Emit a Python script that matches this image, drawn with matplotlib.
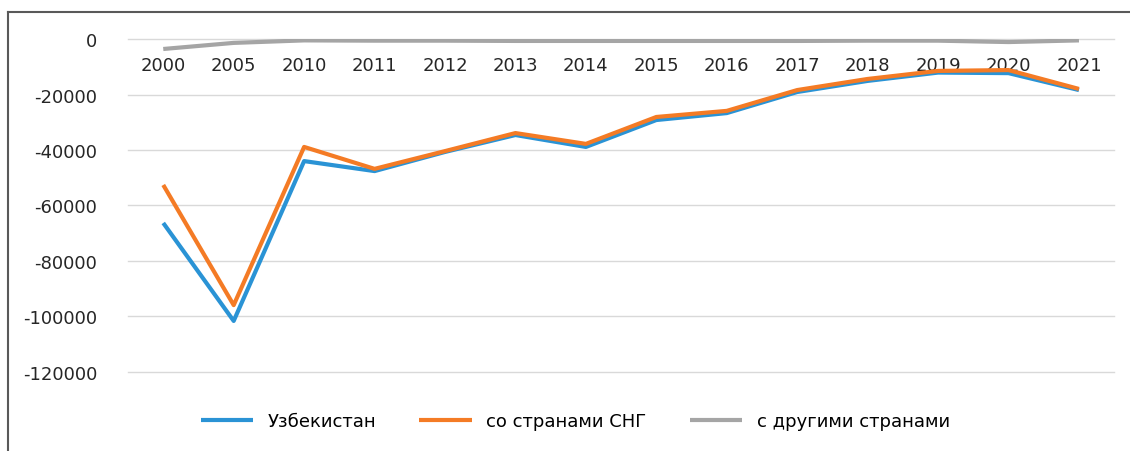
import matplotlib
matplotlib.use('Agg')
import matplotlib.pyplot as plt
from matplotlib.lines import Line2D

years = ['2000', '2005', '2010', '2011', '2012', '2013', '2014',
         '2015', '2016', '2017', '2018', '2019', '2020', '2021']
uzbekistan = [-66300, -101600, -44000, -47600, -40700, -34600, -38900,
              -29200, -26700, -19100, -15100, -12100, -12300, -18400]
cis = [-52600, -95900, -38900, -46800, -40400, -33900, -37800,
       -28100, -25900, -18400, -14400, -11500, -11200, -18000]
others = [-3600, -1400, -500, -600, -600, -700, -700,
          -700, -700, -700, -600, -600, -1100, -500]
labels = ['Узбекистан', 'со странами СНГ', 'с другими странами']

plt.rcParams['font.family'] = ['DejaVu Sans']

fig = plt.figure(figsize=(11.3, 4.52), dpi=100)
ax = fig.add_axes([0.1133, 0.1748, 0.8727, 0.7367])

x = list(range(len(years)))
ax.plot(x, uzbekistan, color='#2a93d5', lw=3, label=labels[0], solid_capstyle='butt')
ax.plot(x, cis, color='#f47b25', lw=3, label=labels[1], solid_capstyle='butt')
ax.plot(x, others, color='#a5a5a5', lw=3, label=labels[2], solid_capstyle='butt')

ax.set_xlim(-0.5, len(years) - 0.5)
ax.set_ylim(-120000, 0)
ax.set_yticks(range(-120000, 1, 20000))
ax.set_yticklabels([str(v) for v in range(-120000, 1, 20000)])
ax.grid(axis='y', color='#d9d9d9', lw=1)
for gl in ax.get_ygridlines():
    gl.set_clip_on(False)
ax.set_axisbelow(True)

ax.set_xticks(x)
ax.set_xticklabels(years)
ax.spines['bottom'].set_position(('data', 0))
for s in ['top', 'right', 'left', 'bottom']:
    ax.spines[s].set_visible(False)
ax.tick_params(axis='x', length=0, pad=12, labelsize=13, colors='#262626')
ax.tick_params(axis='y', length=0, pad=22, labelsize=13, colors='#262626')

fig.legend(loc='center', bbox_to_anchor=(0.509, 0.066), ncol=3, frameon=False,
           fontsize=13, handlelength=2.9, handletextpad=0.8, columnspacing=2.4)

# outer frame (top and left edges)
fig.add_artist(Line2D([8 / 1130, 1], [1 - 13 / 452] * 2, color='#595959', lw=1.5))
fig.add_artist(Line2D([8 / 1130] * 2, [0, 1 - 13 / 452], color='#595959', lw=1.5))

fig.savefig('out.png', dpi=100)
